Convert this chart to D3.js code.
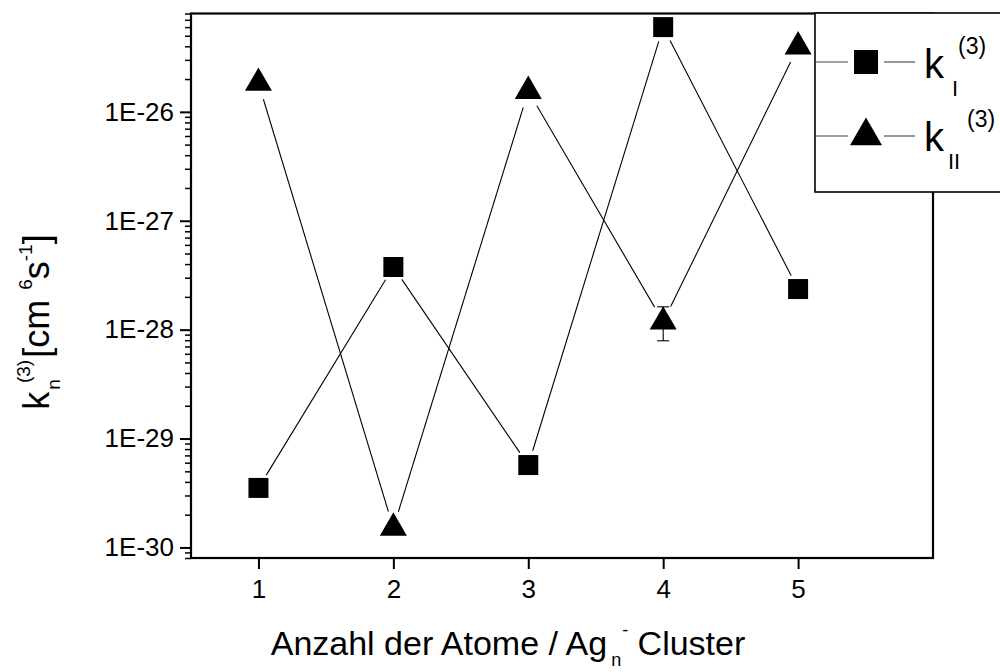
<!DOCTYPE html>
<html>
<head>
<meta charset="utf-8">
<script src="https://cdn.jsdelivr.net/npm/d3@7"></script>
<style>
  html, body { margin: 0; padding: 0; background: #fff; }
  svg { display: block; font-family: "Liberation Sans", Arial, sans-serif; }
</style>
</head>
<body>
<svg id="chart" width="1000" height="672"></svg>
<script>
// ---- data ----
const clusterSizes = [1, 2, 3, 4, 5];
const kI  = [3.52e-30, 3.76e-28, 5.71e-30, 6.0e-26, 2.36e-28];
const kII = [1.84e-26, 1.51e-30, 1.55e-26, 1.18e-28, 3.97e-26];
const kIIerrLow  = [null, null, null, 7.9e-29, null];
const kIIerrHigh = [null, null, null, 1.62e-28, null];
const yTickValues = [1e-30, 1e-29, 1e-28, 1e-27, 1e-26];
const yTickLabels = ["1E-30", "1E-29", "1E-28", "1E-27", "1E-26"];
const xTickValues = [1, 2, 3, 4, 5];

const svg = d3.select("#chart");
const L = 191, R = 933, T = 13.5, B = 558;

const x = d3.scaleLinear().domain([0.5, 6]).range([L, R]);
const y = d3.scaleLog().domain([8e-31, 8e-26]).range([B, T]);

// minor ticks
const minor = [];
for (let e = -31; e <= -26; e++) {
  for (let m = 2; m <= 9; m++) {
    const v = m * Math.pow(10, e);
    if (v >= 8e-31 * 0.999 && v <= 8e-26 * 1.001) minor.push(v);
  }
}

// y axis (major)
const yAxis = d3.axisLeft(y).tickValues(yTickValues)
  .tickFormat((d, i) => yTickLabels[i]).tickSize(11).tickPadding(6);
const gy = svg.append("g").attr("transform", `translate(${L},0)`).call(yAxis);
gy.select(".domain").remove();
gy.selectAll(".tick line").attr("stroke", "#000").attr("stroke-width", 2);
gy.selectAll(".tick text").attr("font-size", 26).attr("fill", "#000")
  .attr("font-family", "Liberation Sans, Arial, sans-serif");

// y axis (minor)
const yMinor = d3.axisLeft(y).tickValues(minor).tickFormat("").tickSize(6);
const gym = svg.append("g").attr("transform", `translate(${L},0)`).call(yMinor);
gym.select(".domain").remove();
gym.selectAll(".tick line").attr("stroke", "#000").attr("stroke-width", 1.5);

// x axis
const xAxis = d3.axisBottom(x).tickValues(xTickValues).tickFormat(d3.format("d"))
  .tickSize(11).tickPadding(11);
const gx = svg.append("g").attr("transform", `translate(0,${B})`).call(xAxis);
gx.select(".domain").remove();
gx.selectAll(".tick line").attr("stroke", "#000").attr("stroke-width", 2);
gx.selectAll(".tick text").attr("font-size", 26).attr("fill", "#000")
  .attr("font-family", "Liberation Sans, Arial, sans-serif");

// frame
svg.append("rect").attr("x", L).attr("y", T).attr("width", R - L).attr("height", B - T)
  .attr("fill", "none").attr("stroke", "#000").attr("stroke-width", 2.2);

// connecting lines with gaps
function gapLines(vals, gap, cls) {
  const pts = vals.map((v, i) => [x(clusterSizes[i]), y(v)]);
  const segs = [];
  for (let i = 0; i < pts.length - 1; i++) {
    const [x1, y1] = pts[i], [x2, y2] = pts[i + 1];
    const dx = x2 - x1, dy = y2 - y1, len = Math.hypot(dx, dy);
    const ux = dx / len, uy = dy / len;
    segs.push([x1 + ux * gap, y1 + uy * gap, x2 - ux * gap, y2 - uy * gap]);
  }
  svg.append("g").selectAll("line." + cls).data(segs).join("line")
    .attr("x1", d => d[0]).attr("y1", d => d[1])
    .attr("x2", d => d[2]).attr("y2", d => d[3])
    .attr("stroke", "#000").attr("stroke-width", 1.1);
}
gapLines(kI, 15, "a");
gapLines(kII, 17, "b");

// error bars
const eb = svg.append("g");
kII.forEach((v, i) => {
  if (kIIerrLow[i] == null) return;
  const cx = x(clusterSizes[i]);
  eb.append("line").attr("x1", cx).attr("x2", cx)
    .attr("y1", y(kIIerrHigh[i])).attr("y2", y(kIIerrLow[i]))
    .attr("stroke", "#000").attr("stroke-width", 1.1);
  [kIIerrHigh[i], kIIerrLow[i]].forEach(e => {
    eb.append("line").attr("x1", cx - 6).attr("x2", cx + 6)
      .attr("y1", y(e)).attr("y2", y(e))
      .attr("stroke", "#000").attr("stroke-width", 1.1);
  });
});

// markers
const sq = d3.symbol(d3.symbolSquare, 400);
const tri = d3.symbol(d3.symbolTriangle, 316);
svg.append("g").selectAll("path").data(kI).join("path")
  .attr("d", sq)
  .attr("transform", (d, i) => `translate(${x(clusterSizes[i])},${y(d)})`)
  .attr("fill", "#000");
svg.append("g").selectAll("path").data(kII).join("path")
  .attr("d", tri)
  .attr("transform", (d, i) => `translate(${x(clusterSizes[i])},${y(d)})`)
  .attr("fill", "#000");

// legend
const lg = svg.append("g");
lg.append("rect").attr("x", 815).attr("y", 13).attr("width", 200).attr("height", 179)
  .attr("fill", "#fff").attr("stroke", "#000").attr("stroke-width", 1.6);
const rows = [
  { yy: 62, sym: d3.symbol(d3.symbolSquare, 576), sub: "I", subX: 952, supX: 958, kY: 78 },
  { yy: 136, sym: d3.symbol(d3.symbolTriangle, 443), sub: "II", subX: 948, supX: 967, kY: 151 }
];
rows.forEach(r => {
  lg.append("line").attr("x1", 815).attr("x2", 848).attr("y1", r.yy).attr("y2", r.yy)
    .attr("stroke", "#444").attr("stroke-width", 1.1);
  lg.append("line").attr("x1", 884).attr("x2", 915).attr("y1", r.yy).attr("y2", r.yy)
    .attr("stroke", "#444").attr("stroke-width", 1.1);
  lg.append("path").attr("d", r.sym).attr("transform", `translate(866,${r.yy})`).attr("fill", "#000");
  lg.append("text").attr("x", 924).attr("y", r.kY).attr("font-size", 40).text("k");
  lg.append("text").attr("x", r.subX).attr("y", r.kY + 18).attr("font-size", 22).text(r.sub);
  lg.append("text").attr("x", r.supX).attr("y", r.kY - 24).attr("font-size", 23).text("(3)");
});

// x title
const xt = svg.append("text").attr("x", 508).attr("y", 655).attr("text-anchor", "middle")
  .attr("font-size", 34).attr("fill", "#000");
xt.append("tspan").text("Anzahl der Atome / Ag");
xt.append("tspan").attr("font-size", 18).attr("dy", 11).attr("dx", 4).text("n");
xt.append("tspan").attr("font-size", 18).attr("dy", -30).attr("dx", 1).text("-");
xt.append("tspan").attr("dy", 19).text(" Cluster");

// y title
const yt = svg.append("text").attr("transform", "translate(49,322) rotate(-90)")
  .attr("text-anchor", "middle").attr("font-size", 36).attr("fill", "#000");
yt.append("tspan").text("k");
yt.append("tspan").attr("font-size", 19).attr("dy", 11).attr("dx", 2).text("n");
yt.append("tspan").attr("font-size", 19).attr("dy", -30).attr("dx", -4).text("(3)");
yt.append("tspan").attr("dy", 19).attr("dx", 2).text("[cm ");
yt.append("tspan").attr("font-size", 19).attr("dy", -17).text("6");
yt.append("tspan").attr("dy", 17).text("s");
yt.append("tspan").attr("font-size", 19).attr("dy", -17).text("-1");
yt.append("tspan").attr("dy", 17).text("]");
</script>
</body>
</html>
